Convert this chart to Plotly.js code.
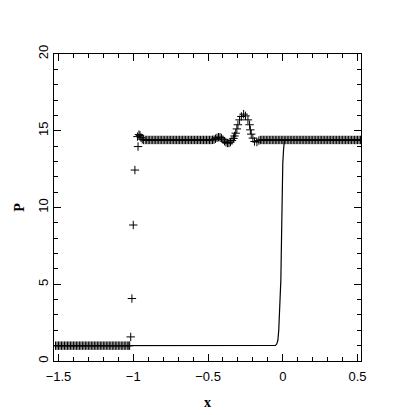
<!DOCTYPE html>
<html>
<head>
<meta charset="utf-8">
<script src="https://cdn.plot.ly/plotly-3.0.1.min.js"></script>
<style>
  html, body { margin: 0; padding: 0; background: #fff; }
  #chart { width: 415px; height: 415px; }
</style>
</head>
<body>
<div id="chart"></div>
<script>
// numerical solution (markers)
const xPts = [
  // left state
  -1.52, -1.51, -1.50, -1.49, -1.48, -1.47, -1.46, -1.45, -1.44, -1.43,
  -1.42, -1.41, -1.40, -1.39, -1.38, -1.37, -1.36, -1.35, -1.34, -1.33,
  -1.32, -1.31, -1.30, -1.29, -1.28, -1.27, -1.26, -1.25, -1.24, -1.23,
  -1.22, -1.21, -1.20, -1.19, -1.18, -1.17, -1.16, -1.15, -1.14, -1.13,
  -1.12, -1.11, -1.10, -1.09, -1.08, -1.07, -1.06, -1.05, -1.04, -1.03, -1.024,
  // jump
  -1.017, -1.009, -1.000, -0.989, -0.968, -0.972, -0.962, -0.955, -0.948, -0.940, -0.932,
  // middle plateau
  -0.92, -0.91, -0.90, -0.89, -0.88, -0.87, -0.86, -0.85, -0.84, -0.83,
  -0.82, -0.81, -0.80, -0.79, -0.78, -0.77, -0.76, -0.75, -0.74, -0.73,
  -0.72, -0.71, -0.70, -0.69, -0.68, -0.67, -0.66, -0.65, -0.64, -0.63,
  -0.62, -0.61, -0.60, -0.59, -0.58, -0.57, -0.56, -0.55, -0.54, -0.53,
  -0.52, -0.51, -0.50, -0.49, -0.48, -0.47,
  // small wiggle
  -0.46, -0.45, -0.44, -0.43, -0.42, -0.41, -0.40, -0.39, -0.38, -0.37, -0.36, -0.35,
  -0.34, -0.33, -0.323,
  // peak
  -0.315, -0.307, -0.300, -0.289, -0.277, -0.262, -0.249, -0.233, -0.222, -0.217, -0.211,
  -0.200, -0.189, -0.173, -0.160,
  // right plateau
  -0.15, -0.14, -0.13, -0.12, -0.11, -0.10, -0.09, -0.08, -0.07, -0.06,
  -0.05, -0.04, -0.03, -0.02, -0.01, 0.00, 0.01, 0.02, 0.03, 0.04,
  0.05, 0.06, 0.07, 0.08, 0.09, 0.10, 0.11, 0.12, 0.13, 0.14,
  0.15, 0.16, 0.17, 0.18, 0.19, 0.20, 0.21, 0.22, 0.23, 0.24,
  0.25, 0.26, 0.27, 0.28, 0.29, 0.30, 0.31, 0.32, 0.33, 0.34,
  0.35, 0.36, 0.37, 0.38, 0.39, 0.40, 0.41, 0.42, 0.43, 0.44,
  0.45, 0.46, 0.47, 0.48, 0.49, 0.50, 0.51, 0.52
];
const pPts = [
  1, 1, 1, 1, 1, 1, 1, 1, 1, 1,
  1, 1, 1, 1, 1, 1, 1, 1, 1, 1,
  1, 1, 1, 1, 1, 1, 1, 1, 1, 1,
  1, 1, 1, 1, 1, 1, 1, 1, 1, 1,
  1, 1, 1, 1, 1, 1, 1, 1, 1, 1, 1,
  1.57, 4.07, 8.86, 12.44, 13.97, 14.62, 14.75, 14.70, 14.55, 14.45, 14.40,
  14.4, 14.4, 14.4, 14.4, 14.4, 14.4, 14.4, 14.4, 14.4, 14.4,
  14.4, 14.4, 14.4, 14.4, 14.4, 14.4, 14.4, 14.4, 14.4, 14.4,
  14.4, 14.4, 14.4, 14.4, 14.4, 14.4, 14.4, 14.4, 14.4, 14.4,
  14.4, 14.4, 14.4, 14.4, 14.4, 14.4, 14.4, 14.4, 14.4, 14.4,
  14.4, 14.4, 14.4, 14.4, 14.4, 14.41,
  14.42, 14.48, 14.54, 14.58, 14.58, 14.52, 14.42, 14.32, 14.24, 14.20, 14.20, 14.26,
  14.36, 14.50, 14.66,
  14.84, 15.12, 15.39, 15.71, 15.93, 16.08, 15.97, 15.71, 15.39, 15.06, 14.78,
  14.52, 14.30, 14.26, 14.36,
  14.4, 14.4, 14.4, 14.4, 14.4, 14.4, 14.4, 14.4, 14.4, 14.4,
  14.4, 14.4, 14.4, 14.4, 14.4, 14.4, 14.4, 14.4, 14.4, 14.4,
  14.4, 14.4, 14.4, 14.4, 14.4, 14.4, 14.4, 14.4, 14.4, 14.4,
  14.4, 14.4, 14.4, 14.4, 14.4, 14.4, 14.4, 14.4, 14.4, 14.4,
  14.4, 14.4, 14.4, 14.4, 14.4, 14.4, 14.4, 14.4, 14.4, 14.4,
  14.4, 14.4, 14.4, 14.4, 14.4, 14.4, 14.4, 14.4, 14.4, 14.4,
  14.4, 14.4, 14.4, 14.4, 14.4, 14.4, 14.4, 14.4
];

// reference curve (solid line)
const xLine = [-1.53, -0.060, -0.049, -0.040, -0.033, -0.027, -0.022, -0.017, -0.013, -0.008, -0.004, 0.000, 0.005, 0.011, 0.020, 0.52];
const pLine = [1.0, 1.0, 1.02, 1.12, 1.35, 2.0, 2.9, 3.96, 5.27, 8.3, 11.8, 12.9, 13.75, 14.4, 14.42, 14.42];

const xTicks = [-1.5, -1, -0.5, 0, 0.5];
const xTickText = ['\u22121.5', '\u22121', '\u22120.5', '0', '0.5'];
const yTicks = [0, 5, 10, 15, 20];

const axisCommon = {
  showline: true,
  linecolor: '#000',
  linewidth: 1,
  mirror: 'ticks',
  ticks: 'inside',
  ticklen: 7,
  tickwidth: 1,
  tickcolor: '#000',
  showgrid: false,
  zeroline: false,
  tickfont: { family: 'Liberation Sans, Arial, sans-serif', size: 13, color: '#000' }
};

const data = [
  {
    x: xLine,
    y: pLine,
    type: 'scatter',
    mode: 'lines',
    line: { color: '#000', width: 1.2 },
    hoverinfo: 'skip'
  },
  {
    x: xPts,
    y: pPts,
    type: 'scatter',
    mode: 'markers',
    marker: {
      symbol: 'cross-thin',
      size: 6,
      color: '#000',
      line: { color: '#000', width: 1 }
    }
  }
];

const layout = {
  width: 415,
  height: 415,
  margin: { l: 54, r: 54, t: 54, b: 54 },
  paper_bgcolor: '#fff',
  plot_bgcolor: '#fff',
  showlegend: false,
  xaxis: Object.assign({}, axisCommon, {
    range: [-1.53, 0.523],
    tickvals: xTicks,
    ticktext: xTickText,
    ticklabelstandoff: 3,
    minor: { dtick: 0.1, ticks: 'inside', ticklen: 4, tickcolor: '#000', tickwidth: 1 },
    title: { text: '<b>x</b>', standoff: 14, font: { family: 'Liberation Serif, serif', size: 14, color: '#000' } }
  }),
  yaxis: Object.assign({}, axisCommon, {
    range: [0, 20],
    tickvals: yTicks,
    tickangle: -90,
    minor: { dtick: 1, ticks: 'inside', ticklen: 4, tickcolor: '#000', tickwidth: 1 },
    title: { text: '<b>P</b>', standoff: 7, font: { family: 'Liberation Serif, serif', size: 14, color: '#000' } }
  })
};

Plotly.newPlot('chart', data, layout, { displayModeBar: false, staticPlot: true });
</script>
</body>
</html>
